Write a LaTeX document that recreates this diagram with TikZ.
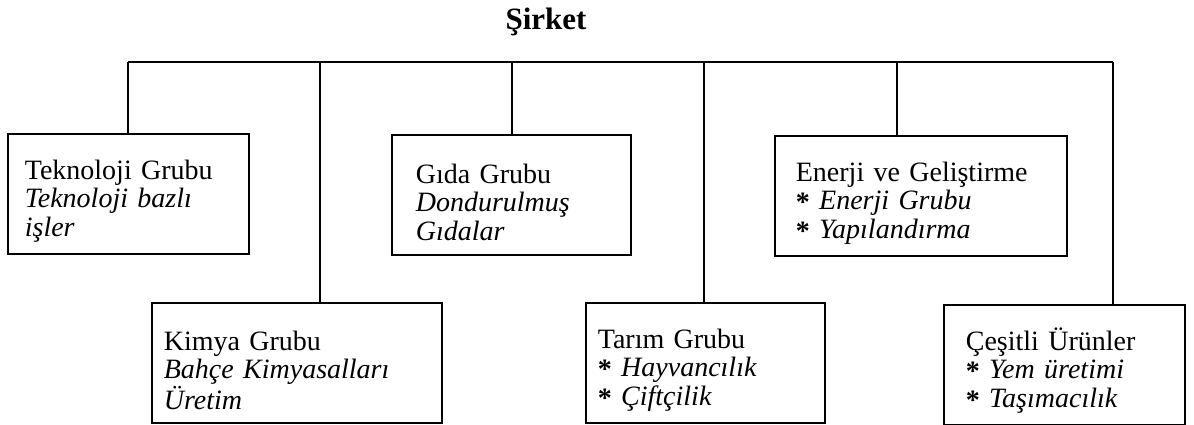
\documentclass[tikz,border=0pt]{standalone}
\usepackage{fontspec}
\setmainfont{Liberation Serif}
\newcommand{\firstline}{\rule{0pt}{34pt}}
\newcommand{\bul}{\relax\raisebox{-2pt}{\textbf{*}}\ }
\begin{document}
\begin{tikzpicture}[x=1pt,y=-1pt,
  conn/.style={line width=1.6pt},
  orgbox/.style 2 args={draw, line width=1.7pt, rectangle, anchor=north west,
     inner ysep=0pt, inner xsep=#1, text width=#2, align=left,
     minimum height=120pt, font=\fontsize{28}{28.5}\selectfont},
  titletext/.style={font=\fontsize{31}{33}\selectfont\bfseries, anchor=base, inner sep=0pt}]
\useasboundingbox (0,0) rectangle (1194,425);

\node[titletext] (title) at (546,30) {Şirket};

\node[orgbox={17pt}{207pt}] (tek) at (7,133) {\firstline Teknoloji Grubu\\\textit{Teknoloji bazlı}\\\textit{işler}};
\node[orgbox={12pt}{266pt}] (kim) at (151,302) {\firstline Kimya Grubu\\\textit{Bahçe Kimyasalları}\\\textit{Üretim}};
\node[orgbox={24pt}{191pt}] (gida) at (391,134) {\firstline Gıda Grubu\\\textit{Dondurulmuş}\\\textit{Gıdalar}};
\node[orgbox={12pt}{215pt}] (tar) at (585,302) {\firstline Tarım Grubu\\\bul\textit{Hayvancılık}\\\bul\textit{Çiftçilik}};
\node[orgbox={21pt}{250pt}] (ene) at (774,135) {\firstline Enerji ve Geliştirme\\\bul\textit{Enerji Grubu}\\\bul\textit{Yapılandırma}};
\node[orgbox={22pt}{197pt}] (ces) at (943,304) {\firstline Çeşitli Ürünler\\\bul\textit{Yem üretimi}\\\bul\textit{Taşımacılık}};

\coordinate (b1) at (128,62);
\coordinate (b2) at (320,62);
\coordinate (b3) at (512,62);
\coordinate (b4) at (704,62);
\coordinate (b5) at (897,62);
\coordinate (b6) at (1113,62);

\draw[conn] (b1) -- (b6);
\draw[conn] (b1) -- (b1 |- tek.north);
\draw[conn] (b2) -- (b2 |- kim.north);
\draw[conn] (b3) -- (b3 |- gida.north);
\draw[conn] (b4) -- (b4 |- tar.north);
\draw[conn] (b5) -- (b5 |- ene.north);
\draw[conn] (b6) -- (b6 |- ces.north);
\end{tikzpicture}
\end{document}
